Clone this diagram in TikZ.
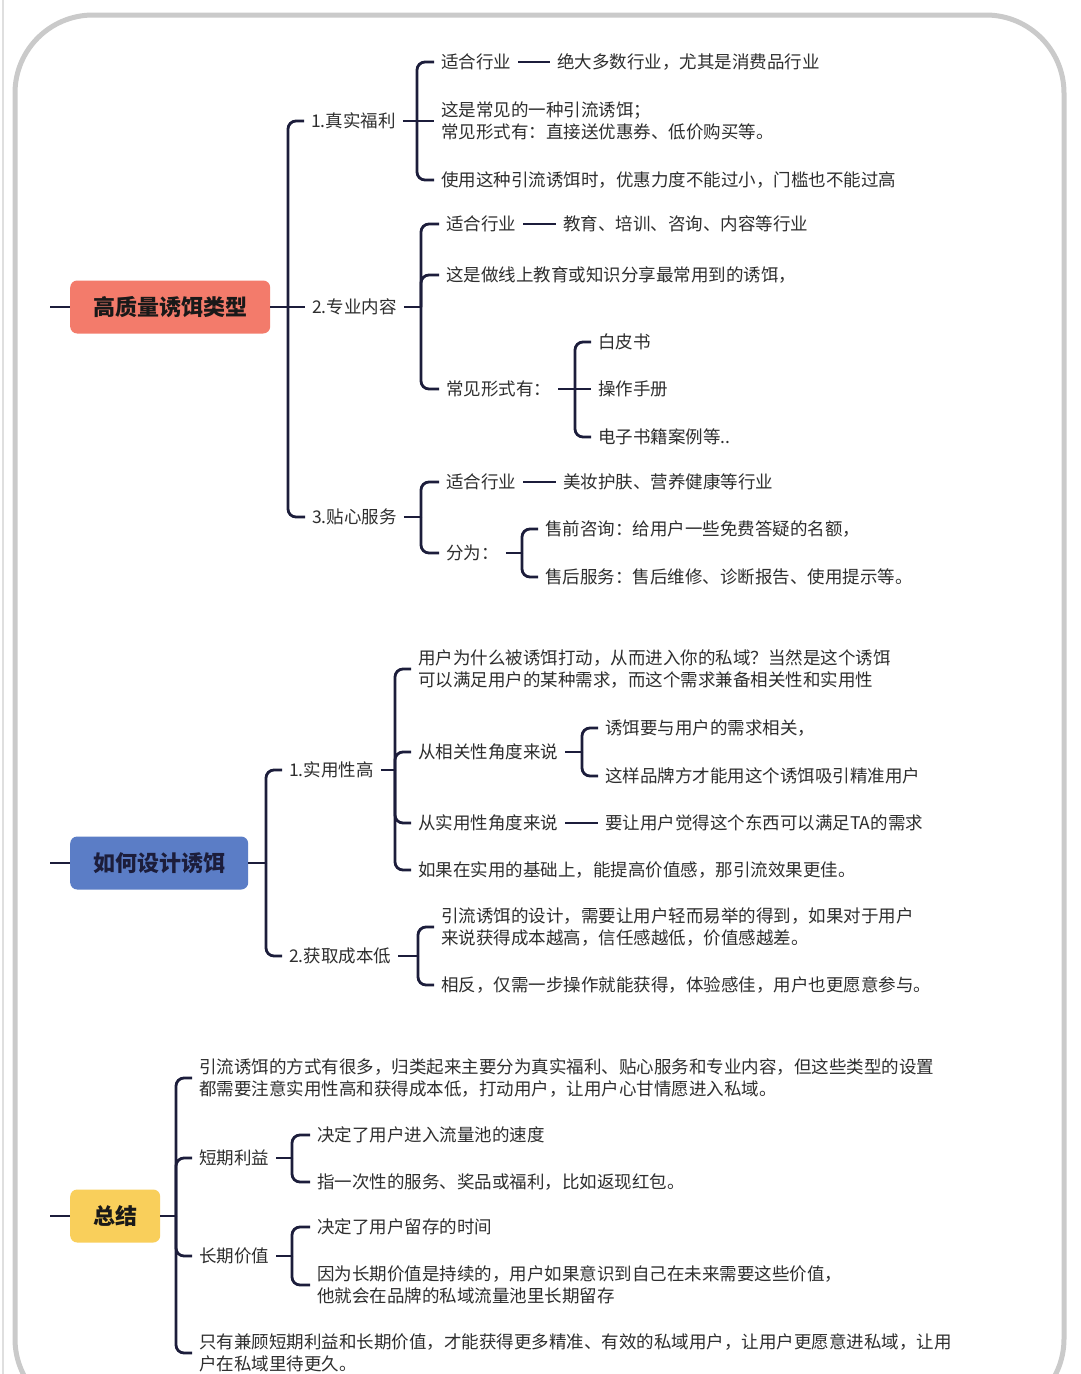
\documentclass[tikz,border=0pt]{standalone}
\usepackage{fontspec}
\setmainfont{Noto Sans CJK SC}
\usepackage{xcolor}
\usepackage{tikz}
\usetikzlibrary{positioning}
\definecolor{rojo}{HTML}{F37B6B}
\definecolor{azul}{HTML}{5B7DC6}
\definecolor{amarillo}{HTML}{F9CF5B}
\definecolor{trazo}{HTML}{1C1D3B}
\definecolor{texto}{HTML}{2E2E2E}
\definecolor{marcogris}{HTML}{CACACA}

\begin{document}
\begin{tikzpicture}[x=1pt,y=-1pt,
  raiz/.style={anchor=west,rounded corners=7pt,minimum height=53pt,inner xsep=23pt,font=\fontsize{22}{26}\selectfont\bfseries},
  rama/.style={anchor=west,inner xsep=7pt,inner ysep=2pt,align=left,text=texto,font=\fontsize{17.5}{22.5}\selectfont},
  linea/.style={draw=trazo,line width=2.8pt,rounded corners=8pt},
  marco/.style={draw=marcogris,line width=5pt,rounded corners=78pt}]
\useasboundingbox (0,0) rectangle (1080,1374);
\clip (0,0) rectangle (1080,1374);
\fill[white] (0,0) rectangle (1080,1374);
\draw[draw=marcogris!60,line width=2pt] (3,0) -- (3,1374);
\draw[marco] (15,15) rectangle (1064,1417);
% bloque 1
\node[raiz,fill=rojo,text=black!90] (r1) at (70,307) {高质量诱饵类型};
\coordinate (s1) at (50,307);
\coordinate (t1) at (288,307);
\node[rama] (b11) at (304,121) {1.真实福利};
\node[rama] (b12) at (305,307) {2.专业内容};
\node[rama] (b13) at (305,517) {3.贴心服务};
\coordinate (j11) at (417,121);
\node[rama] (c111) at (434,62) {适合行业};
\node[rama] (d111) at (550,62) {绝大多数行业，尤其是消费品行业};
\node[rama] (c112) at (434,121) {这是常见的一种引流诱饵；\\常见形式有：直接送优惠券、低价购买等。};
\node[rama] (c113) at (434,180) {使用这种引流诱饵时，优惠力度不能过小，门槛也不能过高};
\coordinate (j12) at (421,307);
\node[rama] (c121) at (439,224) {适合行业};
\node[rama] (d121) at (556,224) {教育、培训、咨询、内容等行业};
\node[rama] (c122) at (439,275) {这是做线上教育或知识分享最常用到的诱饵，};
\node[rama] (c123) at (439,389) {常见形式有：};
\coordinate (j123) at (575,389);
\node[rama] (e1) at (591,342) {白皮书};
\node[rama] (e2) at (591,389) {操作手册};
\node[rama] (e3) at (591,437) {电子书籍案例等..};
\coordinate (j13) at (421,517);
\node[rama] (c131) at (439,482) {适合行业};
\node[rama] (d131) at (556,482) {美妆护肤、营养健康等行业};
\node[rama] (c132) at (439,553) {分为：};
\coordinate (j132) at (522,553);
\node[rama] (f1) at (538,529) {售前咨询：给用户一些免费答疑的名额，};
\node[rama] (f2) at (538,577) {售后服务：售后维修、诊断报告、使用提示等。};
\draw[linea] (s1) -- (r1);
\draw[linea] (r1) -- (t1) -- (b12);
\draw[linea] (t1) |- (b11.west);
\draw[linea] (t1) |- (b13.west);
\draw[linea] (b11) -- (j11) -- (c112);
\draw[linea] (j11) |- (c111.west);
\draw[linea] (j11) |- (c113.west);
\draw[linea] (c111) -- (d111);
\draw[linea] (b12) -- (j12);
\draw[linea] (j12) |- (c121.west);
\draw[linea] (j12) |- (c122.west);
\draw[linea] (j12) |- (c123.west);
\draw[linea] (c121) -- (d121);
\draw[linea] (c123) -- (j123) -- (e2);
\draw[linea] (j123) |- (e1.west);
\draw[linea] (j123) |- (e3.west);
\draw[linea] (b13) -- (j13);
\draw[linea] (j13) |- (c131.west);
\draw[linea] (j13) |- (c132.west);
\draw[linea] (c131) -- (d131);
\draw[linea] (c132) -- (j132);
\draw[linea] (j132) |- (f1.west);
\draw[linea] (j132) |- (f2.west);
% bloque 2
\node[raiz,fill=azul,text=trazo] (r2) at (70,863) {如何设计诱饵};
\coordinate (s2) at (50,863);
\coordinate (t2) at (266,863);
\node[rama] (b21) at (282,770) {1.实用性高};
\node[rama] (b22) at (282,956) {2.获取成本低};
\coordinate (j21) at (395,770);
\node[rama] (g1) at (411,669) {用户为什么被诱饵打动，从而进入你的私域？当然是这个诱饵\\可以满足用户的某种需求，而这个需求兼备相关性和实用性};
\node[rama] (g2) at (411,752) {从相关性角度来说};
\coordinate (j22a) at (582,752);
\node[rama] (h1) at (598,728) {诱饵要与用户的需求相关，};
\node[rama] (h2) at (598,776) {这样品牌方才能用这个诱饵吸引精准用户};
\node[rama] (g3) at (411,823) {从实用性角度来说};
\node[rama] (h3) at (598,823) {要让用户觉得这个东西可以满足TA的需求};
\node[rama] (g4) at (411,870) {如果在实用的基础上，能提高价值感，那引流效果更佳。};
\coordinate (j22) at (418,956);
\node[rama] (k1) at (434,927) {引流诱饵的设计，需要让用户轻而易举的得到，如果对于用户\\来说获得成本越高，信任感越低，价值感越差。};
\node[rama] (k2) at (434,985) {相反，仅需一步操作就能获得，体验感佳，用户也更愿意参与。};
\draw[linea] (s2) -- (r2);
\draw[linea] (r2) -- (t2);
\draw[linea] (t2) |- (b21.west);
\draw[linea] (t2) |- (b22.west);
\draw[linea] (b21) -- (j21);
\draw[linea] (j21) |- (g1.west);
\draw[linea] (j21) |- (g2.west);
\draw[linea] (j21) |- (g3.west);
\draw[linea] (j21) |- (g4.west);
\draw[linea] (g2) -- (j22a);
\draw[linea] (j22a) |- (h1.west);
\draw[linea] (j22a) |- (h2.west);
\draw[linea] (g3) -- (h3);
\draw[linea] (b22) -- (j22);
\draw[linea] (j22) |- (k1.west);
\draw[linea] (j22) |- (k2.west);
% bloque 3
\node[raiz,fill=amarillo,text=black!90] (r3) at (70,1216) {总结};
\coordinate (s3) at (50,1216);
\coordinate (t3) at (176,1216);
\node[rama] (m1) at (192,1078) {引流诱饵的方式有很多，归类起来主要分为真实福利、贴心服务和专业内容，但这些类型的设置\\都需要注意实用性高和获得成本低，打动用户，让用户心甘情愿进入私域。};
\node[rama] (m2) at (192,1158) {短期利益};
\coordinate (j32) at (292,1158);
\node[rama] (n1) at (310,1135) {决定了用户进入流量池的速度};
\node[rama] (n2) at (310,1182) {指一次性的服务、奖品或福利，比如返现红包。};
\node[rama] (m3) at (192,1256) {长期价值};
\coordinate (j33) at (292,1256);
\node[rama] (n3) at (310,1227) {决定了用户留存的时间};
\node[rama] (n4) at (310,1285) {因为长期价值是持续的，用户如果意识到自己在未来需要这些价值，\\他就会在品牌的私域流量池里长期留存};
\node[rama] (m4) at (192,1353) {只有兼顾短期利益和长期价值，才能获得更多精准、有效的私域用户，让用户更愿意进私域，让用\\户在私域里待更久。};
\draw[linea] (s3) -- (r3);
\draw[linea] (r3) -- (t3);
\draw[linea] (t3) |- (m1.west);
\draw[linea] (t3) |- (m2.west);
\draw[linea] (t3) |- (m3.west);
\draw[linea] (t3) |- (m4.west);
\draw[linea] (m2) -- (j32);
\draw[linea] (j32) |- (n1.west);
\draw[linea] (j32) |- (n2.west);
\draw[linea] (m3) -- (j33);
\draw[linea] (j33) |- (n3.west);
\draw[linea] (j33) |- (n4.west);
\end{tikzpicture}
\end{document}
